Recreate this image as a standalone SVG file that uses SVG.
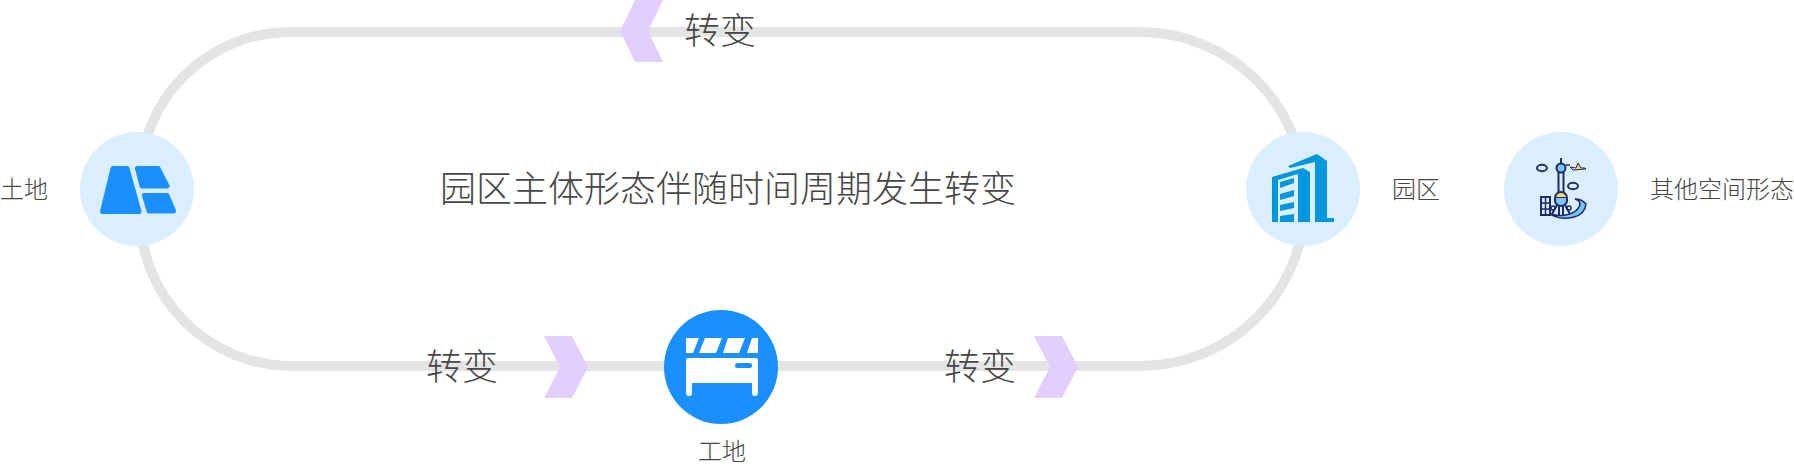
<svg xmlns="http://www.w3.org/2000/svg" width="1794" height="468" viewBox="0 0 1794 468">
<style>
.t{font-family:"Noto Sans CJK SC","Noto Sans",sans-serif;fill:#464646;font-weight:300}
.big{font-size:36px}.sm{font-size:24px}
.bg{fill:#dbeeff}
.ch{fill:#e2ceff}
.b{fill:#0097de}
.l{fill:#1a90ff;stroke:#1a90ff;stroke-width:5;stroke-linejoin:round}
.o{fill:none;stroke:#1e2a6b;stroke-width:2}
</style>
<rect width="1794" height="468" fill="#fff"/>
<g id="connectors">
<path d="M290 32H1140A165 165 0 0 1 1305 197V201A165 165 0 0 1 1140 366H292A152 152 0 0 1 140 214V182A150 150 0 0 1 290 32Z" fill="none" stroke="#e4e4e4" stroke-width="10"/>
<polygon class="ch" points="635,0 663,0 648,31 663,62 635,62 620,31"/>
<polygon class="ch" points="544,336 572,336 588,367 572,398 544,398 560,367"/>
<polygon class="ch" points="1034,336 1062,336 1078,367 1062,398 1034,398 1050,367"/>
</g>
<g id="t1"><text class="t big" x="684" y="44">转变</text></g>
<g id="t2"><text class="t big" x="426" y="380">转变</text></g>
<g id="t3"><text class="t big" x="944" y="380">转变</text></g>
<g id="title"><text class="t big" x="440" y="202">园区主体形态伴随时间周期发生转变</text></g>
<g id="node-land">
<circle class="bg" cx="137" cy="189" r="57"/>
<polygon class="l" points="113,168.500 127,168.500 139,211.500 102.500,211.500"/>
<polygon class="l" points="137.500,168.500 158,168.500 167,186 142,186"/>
<polygon class="l" points="144.500,195.500 167,195.500 173.500,211 149,211"/>
<text class="t sm" x="0" y="198">土地</text>
</g>
<g id="node-park">
<circle class="bg" cx="1303" cy="189" r="57"/>
<path class="b" d="M1272 222V177L1303 168L1310 172V222H1298V174L1278 180V222Z"/>
<path class="b" d="M1280 182L1294 178V183L1280 188ZM1280 194L1294 190V196L1280 200ZM1280 205L1294 202V208L1280 211ZM1280 216L1294 214V222H1280Z"/>
<path class="b" d="M1288 166L1317 154L1327 161V218H1334V222H1315V162L1290 168Z"/>
<text class="t sm" x="1392" y="198">园区</text>
</g>
<g id="node-other">
<circle class="bg" cx="1561" cy="189" r="57"/>
<path d="M1547 212Q1555 217 1566 215Q1577 213 1580 205Q1580 200 1575 199Q1582 199 1586 204Q1585 214 1574 217Q1558 221 1547 212Z" fill="#7cc4f0" stroke="#1e2a6b" stroke-width="1.500"/>
<path class="o" d="M1561 158V163M1558.500 172V192M1563.500 172V192"/>
<path d="M1561 173V192" fill="none" stroke="#dbeeff" stroke-width="2" stroke-dasharray="3 2"/>
<circle class="o" cx="1561" cy="168" r="4.500" style="fill:#7cc4f0"/>
<path class="o" d="M1555 198A6 6 0 0 1 1567 198Z" style="fill:#f6d97a"/>
<path class="o" d="M1555 198V201A6 5 0 0 0 1567 201V198" style="fill:#7cc4f0"/>
<path class="o" d="M1557 205L1552 214M1559 205V216M1563 205V216M1565 205L1570 214"/>
<circle class="o" cx="1553" cy="208" r="2" style="stroke-width:1.500"/>
<circle class="o" cx="1569" cy="208" r="2" style="stroke-width:1.500"/>
<rect class="o" x="1541" y="197" width="9" height="18" style="fill:#dbeeff"/>
<path class="o" d="M1541 203H1550M1541 209H1550M1545.500 197V215" style="stroke-width:1.500"/>
<ellipse class="o" cx="1542" cy="168" rx="5" ry="3.200"/>
<ellipse class="o" cx="1573" cy="186" rx="5" ry="3.200"/>
<path d="M1570 167L1576 168L1578 163L1581 168H1585L1586 169L1573 170Z" fill="#f6d97a" stroke="#1e2a6b" stroke-width="1"/>
<path d="M1566 165H1570" fill="none" stroke="#1e2a6b" stroke-width="1.500"/>
<text class="t sm" x="1650" y="198">其他空间形态</text>
</g>
<g id="node-site">
<circle cx="721" cy="367" r="57" fill="#1a90ff"/>
<path fill="#fff" d="M686 338H699L693 353H686ZM705 338H722L716 353H699ZM728 338H745L739 353H723ZM752 338H758V353H747ZM688 358H756Q758 358 758 360V393Q758 396 755 396Q752 396 752 393V383H692V393Q692 396 689 396Q686 396 686 393V360Q686 358 688 358Z"/>
<rect x="735" y="363" width="17" height="5" rx="2.500" fill="#1a90ff"/>
<text class="t sm" x="698" y="460">工地</text>
</g>
</svg>
